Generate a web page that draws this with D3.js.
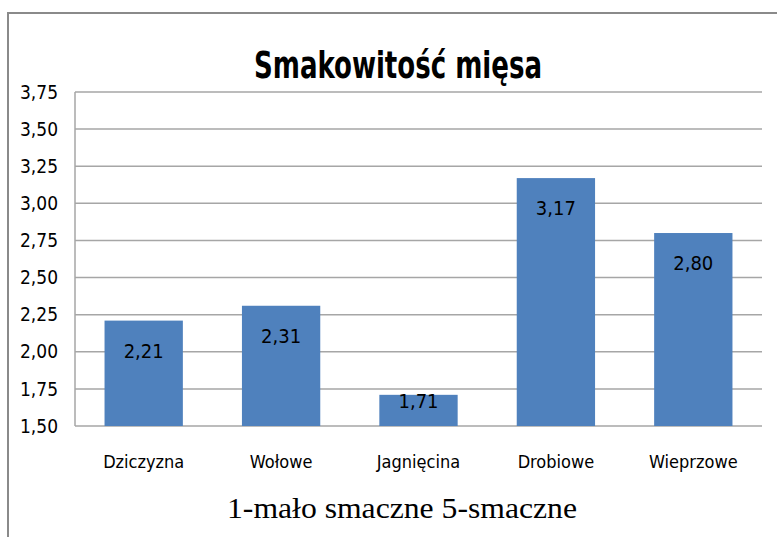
<!DOCTYPE html>
<meta charset="utf-8">
<style>
body { margin: 0; background: #fff; }
svg text { fill: #000; }
.narrow { font-family: "DejaVu Sans Condensed", "DejaVu Sans", sans-serif; font-stretch: condensed; }
</style>
<body>
<svg width="777" height="537" id="chart"></svg>
<script src="https://cdnjs.cloudflare.com/ajax/libs/d3/7.8.5/d3.min.js"></script>
<script>

var categories = ["Dziczyzna", "Wołowe", "Jagnięcina", "Drobiowe", "Wieprzowe"];
var values = [2.21, 2.31, 1.71, 3.17, 2.80];
var ticks = [1.50, 1.75, 2.00, 2.25, 2.50, 2.75, 3.00, 3.25, 3.50, 3.75];

var svg = d3.select("#chart");
var fmt = function(v) { return v.toFixed(2).replace(".", ","); };

// outer frame (runs off the right/bottom edge)
svg.append("path")
    .attr("d", "M8,540 L8,13 L790,13")
    .attr("fill", "none")
    .attr("stroke", "#8a8a8a")
    .attr("stroke-width", 2);

var plotL = 75, plotR = 762, plotT = 92, plotB = 426;

var y = d3.scaleLinear().domain([1.5, 3.75]).range([plotB, plotT]);
var x = d3.scaleBand().domain(categories).range([plotL, plotR])
    .paddingInner(0.43).paddingOuter(0.215);

// gridlines
svg.selectAll(".grid")
    .data(ticks)
  .enter().append("line")
    .attr("x1", plotL).attr("x2", plotR)
    .attr("y1", function(d) { return y(d); })
    .attr("y2", function(d) { return y(d); })
    .attr("stroke", "#a6a6a6")
    .attr("stroke-width", 1.5);

svg.append("line")
    .attr("x1", plotL).attr("x2", plotL)
    .attr("y1", plotT).attr("y2", plotB)
    .attr("stroke", "#a6a6a6")
    .attr("stroke-width", 1.5);

// y tick labels
svg.selectAll(".ytick")
    .data(ticks)
  .enter().append("text")
    .attr("class", "narrow")
    .attr("x", 58)
    .attr("y", function(d) { return y(d); })
    .attr("dy", "0.35em")
    .attr("text-anchor", "end")
    .attr("font-size", 19)
    .text(fmt);

// bars
svg.selectAll(".bar")
    .data(values)
  .enter().append("rect")
    .attr("x", function(d, i) { return x(categories[i]); })
    .attr("y", function(d) { return y(d); })
    .attr("width", x.bandwidth())
    .attr("height", function(d) { return plotB - y(d); })
    .attr("fill", "#4f81bd");

// value labels
svg.selectAll(".val")
    .data(values)
  .enter().append("text")
    .attr("class", "narrow")
    .attr("x", function(d, i) { return x(categories[i]) + x.bandwidth() / 2; })
    .attr("y", function(d) { return (plotB - y(d)) > 60 ? y(d) + 30 : y(d) + 6; })
    .attr("dy", "0.35em")
    .attr("text-anchor", "middle")
    .attr("font-size", 20)
    .text(fmt);

// category labels
svg.selectAll(".cat")
    .data(categories)
  .enter().append("text")
    .attr("class", "narrow")
    .attr("x", function(d) { return x(d) + x.bandwidth() / 2; })
    .attr("y", 462)
    .attr("dy", "0.35em")
    .attr("text-anchor", "middle")
    .attr("font-size", 18)
    .text(function(d) { return d; });

svg.append("text")
    .attr("class", "narrow")
    .attr("x", 398)
    .attr("y", 78)
    .attr("text-anchor", "middle")
    .attr("font-size", 38)
    .attr("font-weight", "bold")
    .attr("textLength", 288)
    .attr("lengthAdjust", "spacingAndGlyphs")
    .text("Smakowitość mięsa");

svg.append("text")
    .attr("x", 402)
    .attr("y", 518)
    .attr("text-anchor", "middle")
    .attr("font-family", "Liberation Serif, serif")
    .attr("font-size", 30)
    .attr("textLength", 350)
    .attr("lengthAdjust", "spacingAndGlyphs")
    .text("1-mało smaczne 5-smaczne");

</script>
</body>
